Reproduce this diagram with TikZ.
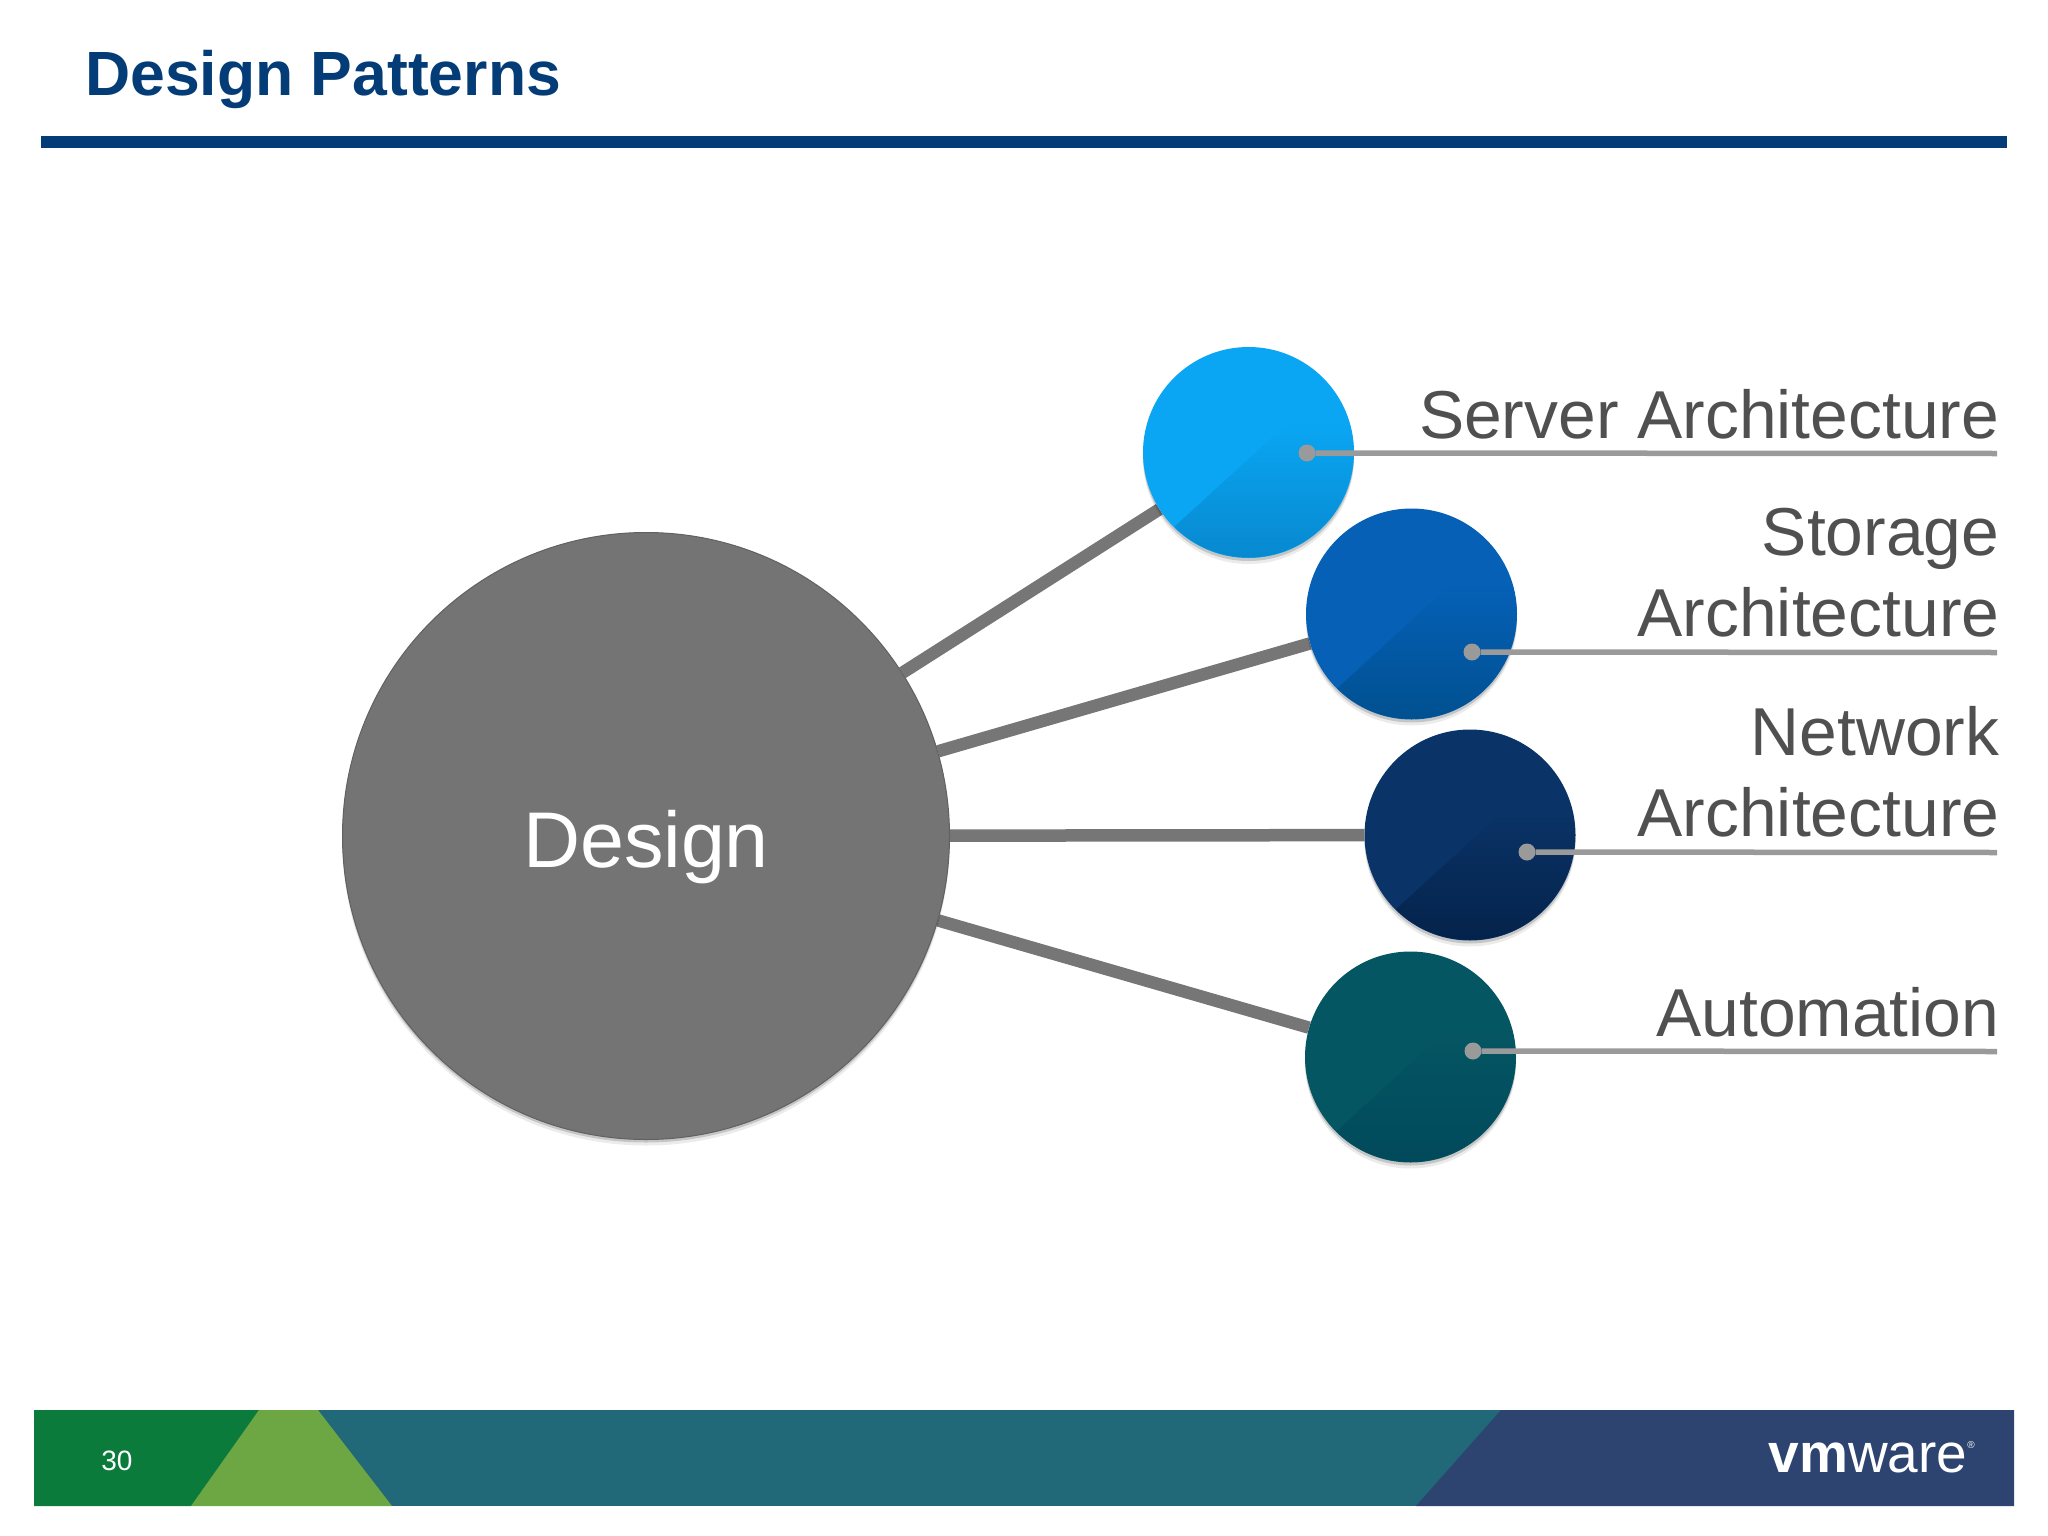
\documentclass[tikz,border=0pt]{standalone}
\usepackage{fontspec}
\setmainfont{Liberation Sans}
\usetikzlibrary{backgrounds,shadows}

\definecolor{titleblue}{HTML}{033C76}
\definecolor{labelgray}{HTML}{505050}
\definecolor{biggray}{HTML}{747474}
\definecolor{linegray}{HTML}{767676}
\definecolor{leadgray}{HTML}{9A9A9A}
\definecolor{skyA}{HTML}{0AA6F3}
\definecolor{skyB}{HTML}{0788CE}
\definecolor{blueA}{HTML}{0560B6}
\definecolor{blueB}{HTML}{00508F}
\definecolor{navyA}{HTML}{0A3468}
\definecolor{navyB}{HTML}{04224A}
\definecolor{tealA}{HTML}{055663}
\definecolor{tealB}{HTML}{00495B}
\definecolor{barGreen}{HTML}{0A7B3A}
\definecolor{barLight}{HTML}{6CA744}
\definecolor{barTeal}{HTML}{216878}
\definecolor{barNavy}{HTML}{2D4370}

\newcommand{\facet}[3]{%
  \begin{scope}[shift={(#1.center)}]
    \clip (0,0) circle[radius=105];
    \clip (-75,75) -- (40,-30) -- (110,-30) -- (110,110) -- (-75,110) -- cycle;
    \shade[top color=#2, middle color=#3, bottom color=#3] (-110,-30) rectangle (110,110);
  \end{scope}}

\tikzset{
  x=1pt, y=-1pt,
  softshadow/.style={
    drop shadow={shadow xshift=0pt, shadow yshift=-6pt, fill=black, opacity=.08},
    drop shadow={shadow xshift=0pt, shadow yshift=-3pt, fill=black, opacity=.16}},
  ball/.style={circle, minimum size=211pt, inner sep=0pt, softshadow},
  spoke/.style={line width=12.5pt, draw=linegray,
    preaction={draw=black!22, transform canvas={yshift=-3pt}}},
  dot/.style={circle, fill=leadgray, minimum size=17pt, inner sep=0pt},
  lead/.style={line width=5.5pt, draw=leadgray,
    preaction={draw=black!15, transform canvas={yshift=-2pt}}},
  label/.style={anchor=south east, align=right, inner sep=0pt, text=labelgray,
    font=\fontsize{67.8}{81}\selectfont},
}

\begin{document}
\begin{tikzpicture}
  \useasboundingbox (0,0) rectangle (2048,1536);

  % header
  \node[anchor=base west, inner sep=0pt, text=titleblue, font=\fontsize{62.5}{70}\selectfont\bfseries] (title) at (85,96) {Design Patterns};
  \fill[titleblue] (41,136) rectangle (2007,148);

  % circles
  \node[circle, minimum size=607pt, inner sep=0pt, fill=biggray, draw=black!62, line width=1pt, softshadow] (design) at (646,836) {};
  \node[text=white, inner sep=0pt, font=\fontsize{79}{90}\selectfont] (designtext) at (646,847) {Design};
  \node[ball, fill=skyA] (server) at (1248.5,452.5) {};
  \node[ball, fill=blueA] (storage) at (1411.5,614) {};
  \node[ball, fill=navyA] (network) at (1470,835) {};
  \node[ball, fill=tealA] (automation) at (1410.5,1057) {};
  \facet{server}{skyA}{skyB}
  \facet{storage}{blueA}{blueB}
  \facet{network}{navyA}{navyB}
  \facet{automation}{tealA}{tealB}

  % spokes go behind the circles
  \begin{scope}[on background layer]
    \draw[spoke] (design) -- (server);
    \draw[spoke] (design) -- (storage);
    \draw[spoke] (design) -- (network);
    \draw[spoke] (design) -- (automation);
  \end{scope}

  % leader lines
  \node[dot] (d1) at (1307,453) {};
  \node[dot] (d2) at (1472,652) {};
  \node[dot] (d3) at (1527,852) {};
  \node[dot] (d4) at (1473,1051) {};
  \coordinate (e1) at (1997,453.5);
  \coordinate (e2) at (1997,652.5);
  \coordinate (e3) at (1997,852.5);
  \coordinate (e4) at (1997,1051.5);
  \draw[lead] (d1) -- (e1);
  \draw[lead] (d2) -- (e2);
  \draw[lead] (d3) -- (e3);
  \draw[lead] (d4) -- (e4);

  % labels
  \node[label] (l1) at (1999.5,439) {Server Architecture};
  \node[label] (l2) at (1999.5,637) {Storage\\Architecture};
  \node[label] (l3) at (1999.5,837) {Network\\Architecture};
  \node[label] (l4) at (1999.5,1037) {Automation};

  % footer band
  \fill[barTeal] (34,1410) rectangle (2014,1506);
  \fill[barGreen] (34,1410) -- (259,1410) -- (191,1506) -- (34,1506) -- cycle;
  \fill[barLight] (259,1410) -- (318,1410) -- (392,1506) -- (191,1506) -- cycle;
  \fill[barNavy] (1501,1410) -- (2014,1410) -- (2014,1506) -- (1416,1506) -- cycle;
  \node[text=white, inner sep=0pt, font=\fontsize{28}{32}\selectfont] (page) at (117,1461) {30};
  \node[anchor=base east, text=white, inner sep=0pt, font=\fontsize{55}{60}\selectfont] (logo) at (1975,1472)
    {\textbf{vm}ware\raisebox{24pt}{\fontsize{10}{10}\selectfont ®}};
\end{tikzpicture}
\end{document}
